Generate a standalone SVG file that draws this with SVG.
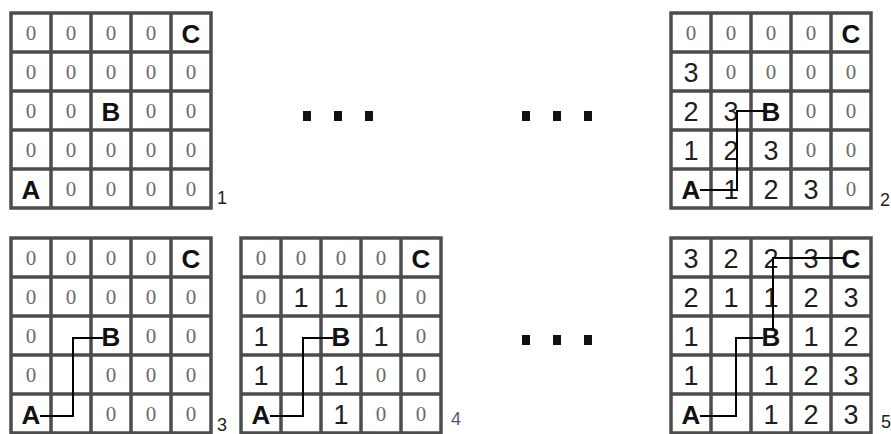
<svg xmlns="http://www.w3.org/2000/svg" xmlns:xlink="http://www.w3.org/1999/xlink" width="891" height="434" viewBox="0 0 891 434">
<style>
.bg{fill:#fff}
.grid{fill:#fff;stroke:#4d4d4d;stroke-width:3.5}
.z{font-family:"Liberation Serif",serif;font-size:21px;fill:#6b6b6b;text-anchor:middle}
.n{font-family:"Liberation Sans",sans-serif;font-size:27px;fill:#1e1e1e;text-anchor:middle}
.L{font-family:"Liberation Sans",sans-serif;font-weight:bold;font-size:26px;fill:#111;text-anchor:middle}
.lab{font-family:"Liberation Sans",sans-serif;font-size:18px;fill:#222}
.path{fill:none;stroke:#000;stroke-width:2}
.dot{fill:#111}
</style>
<defs>
<path id="gl" class="grid" d="M0,0H200V195H0Z M40,0V195 M80,0V195 M120,0V195 M160,0V195 M0,39H200 M0,78H200 M0,117H200 M0,156H200"/>
</defs>
<rect class="bg" x="0" y="0" width="891" height="434"/>

<g id="grid1" transform="translate(11,13)">
<use xlink:href="#gl"/>
<text class="z" x="20" y="27">0</text><text class="z" x="60" y="27">0</text><text class="z" x="100" y="27">0</text><text class="z" x="140" y="27">0</text><text class="L" x="180" y="30">C</text>
<text class="z" x="20" y="66">0</text><text class="z" x="60" y="66">0</text><text class="z" x="100" y="66">0</text><text class="z" x="140" y="66">0</text><text class="z" x="180" y="66">0</text>
<text class="z" x="20" y="105">0</text><text class="z" x="60" y="105">0</text><text class="L" x="100" y="108">B</text><text class="z" x="140" y="105">0</text><text class="z" x="180" y="105">0</text>
<text class="z" x="20" y="144">0</text><text class="z" x="60" y="144">0</text><text class="z" x="100" y="144">0</text><text class="z" x="140" y="144">0</text><text class="z" x="180" y="144">0</text>
<text class="L" x="20" y="186">A</text><text class="z" x="60" y="183">0</text><text class="z" x="100" y="183">0</text><text class="z" x="140" y="183">0</text><text class="z" x="180" y="183">0</text>
<text class="lab" x="206" y="191">1</text>
</g>

<g id="grid2" transform="translate(671,13)">
<use xlink:href="#gl"/>
<text class="z" x="20" y="27">0</text><text class="z" x="60" y="27">0</text><text class="z" x="100" y="27">0</text><text class="z" x="140" y="27">0</text><text class="L" x="180" y="30">C</text>
<text class="n" x="20" y="69">3</text><text class="z" x="60" y="66">0</text><text class="z" x="100" y="66">0</text><text class="z" x="140" y="66">0</text><text class="z" x="180" y="66">0</text>
<text class="n" x="20" y="108">2</text><text class="n" x="60" y="108">3</text><text class="L" x="100" y="108">B</text><text class="z" x="140" y="105">0</text><text class="z" x="180" y="105">0</text>
<text class="n" x="20" y="147">1</text><text class="n" x="60" y="147">2</text><text class="n" x="100" y="147">3</text><text class="z" x="140" y="144">0</text><text class="z" x="180" y="144">0</text>
<text class="L" x="20" y="186">A</text><text class="n" x="60" y="186">1</text><text class="n" x="100" y="186">2</text><text class="n" x="140" y="186">3</text><text class="z" x="180" y="183">0</text>
<text class="lab" x="209" y="193">2</text>
</g>

<g id="grid3" transform="translate(11,238)">
<use xlink:href="#gl"/>
<text class="z" x="20" y="27">0</text><text class="z" x="60" y="27">0</text><text class="z" x="100" y="27">0</text><text class="z" x="140" y="27">0</text><text class="L" x="180" y="30">C</text>
<text class="z" x="20" y="66">0</text><text class="z" x="60" y="66">0</text><text class="z" x="100" y="66">0</text><text class="z" x="140" y="66">0</text><text class="z" x="180" y="66">0</text>
<text class="z" x="20" y="105">0</text><text class="L" x="100" y="108">B</text><text class="z" x="140" y="105">0</text><text class="z" x="180" y="105">0</text>
<text class="z" x="20" y="144">0</text><text class="z" x="100" y="144">0</text><text class="z" x="140" y="144">0</text><text class="z" x="180" y="144">0</text>
<text class="L" x="20" y="186">A</text><text class="z" x="100" y="183">0</text><text class="z" x="140" y="183">0</text><text class="z" x="180" y="183">0</text>
<text class="lab" x="206" y="193">3</text>
</g>

<g id="grid4" transform="translate(241,238)">
<use xlink:href="#gl"/>
<text class="z" x="20" y="27">0</text><text class="z" x="60" y="27">0</text><text class="z" x="100" y="27">0</text><text class="z" x="140" y="27">0</text><text class="L" x="180" y="30">C</text>
<text class="z" x="20" y="66">0</text><text class="n" x="60" y="69">1</text><text class="n" x="100" y="69">1</text><text class="z" x="140" y="66">0</text><text class="z" x="180" y="66">0</text>
<text class="n" x="20" y="108">1</text><text class="L" x="100" y="108">B</text><text class="n" x="140" y="108">1</text><text class="z" x="180" y="105">0</text>
<text class="n" x="20" y="147">1</text><text class="n" x="100" y="147">1</text><text class="z" x="140" y="144">0</text><text class="z" x="180" y="144">0</text>
<text class="L" x="20" y="186">A</text><text class="n" x="100" y="186">1</text><text class="z" x="140" y="183">0</text><text class="z" x="180" y="183">0</text>
<text class="lab" x="210" y="187" style="fill:#4a5878">4</text>
</g>

<g id="grid5" transform="translate(671,238)">
<use xlink:href="#gl"/>
<text class="n" x="20" y="30">3</text><text class="n" x="60" y="30">2</text><text class="n" x="100" y="30">2</text><text class="n" x="140" y="30">3</text><text class="L" x="180" y="30">C</text>
<text class="n" x="20" y="69">2</text><text class="n" x="60" y="69">1</text><text class="n" x="100" y="69">1</text><text class="n" x="140" y="69">2</text><text class="n" x="180" y="69">3</text>
<text class="n" x="20" y="108">1</text><text class="L" x="100" y="108">B</text><text class="n" x="140" y="108">1</text><text class="n" x="180" y="108">2</text>
<text class="n" x="20" y="147">1</text><text class="n" x="100" y="147">1</text><text class="n" x="140" y="147">2</text><text class="n" x="180" y="147">3</text>
<text class="L" x="20" y="186">A</text><text class="n" x="100" y="186">1</text><text class="n" x="140" y="186">2</text><text class="n" x="180" y="186">3</text>
<text class="lab" x="210" y="190">5</text>
</g>

<g id="connectors">
<polyline class="path" points="700,190 737,190 737,111 764,111"/>
<polyline class="path" points="40,416 73,416 73,338 103,338"/>
<polyline class="path" points="270,416 303,416 303,338 333,338"/>
<polyline class="path" points="700,416 736,416 736,338 763,338"/>
<polyline class="path" points="773,330 773,258 845,258"/>
</g>

<g id="dots">
<rect class="dot" x="303" y="111" width="8" height="10"/>
<rect class="dot" x="334" y="111" width="8" height="10"/>
<rect class="dot" x="365" y="111" width="8" height="10"/>
<rect class="dot" x="522" y="111" width="8" height="10"/>
<rect class="dot" x="553" y="111" width="8" height="10"/>
<rect class="dot" x="584" y="111" width="8" height="10"/>
<rect class="dot" x="522" y="335" width="8" height="10"/>
<rect class="dot" x="553" y="335" width="8" height="10"/>
<rect class="dot" x="584" y="335" width="8" height="10"/>
</g>
</svg>
